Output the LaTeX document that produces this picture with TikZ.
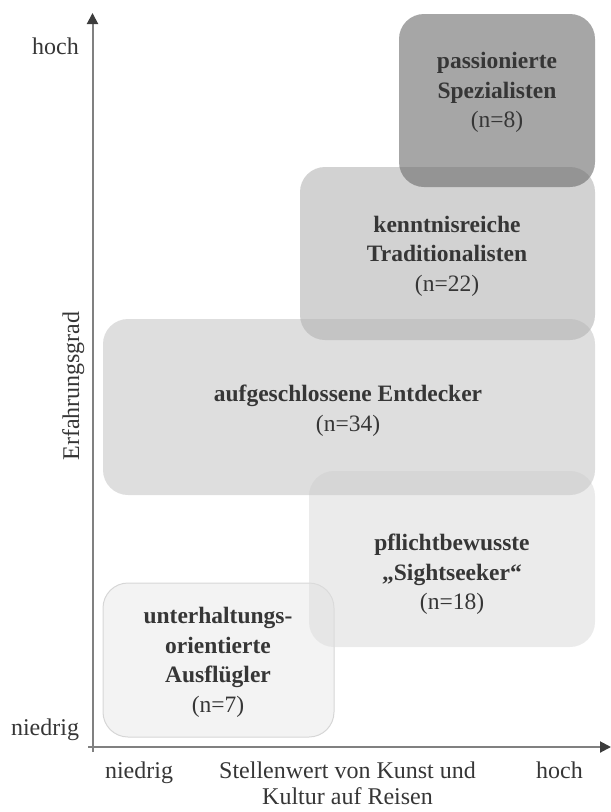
\documentclass[tikz,border=0pt]{standalone}
\usepackage{fontspec}
\setmainfont{Liberation Serif}
\usetikzlibrary{arrows.meta}
\definecolor{txt}{HTML}{363636}
\definecolor{axisgray}{HTML}{808080}
\definecolor{tipgray}{HTML}{3C3C3C}
\definecolor{cA}{gray}{0.42}
\definecolor{cB}{gray}{0.705}
\definecolor{cC}{gray}{0.785}
\definecolor{cD}{gray}{0.87}
\definecolor{cE}{gray}{0.92}
\tikzset{
  lab/.style={font=\fontsize{24}{29}\selectfont, text=txt, inner sep=0pt},
  grp/.style={font=\bfseries\fontsize{23.5}{29.5}\selectfont, text=txt, align=center, inner sep=0pt},
  segbox/.style={rounded corners=25pt, inner sep=0pt, fill opacity=0.6, draw=none},
  axisline/.style={draw=axisgray, line width=2pt,
    -{Triangle[length=11pt,width=11pt,color=tipgray]}},
}
\newcommand{\cnt}[1]{\\\mdseries(n=#1)}
\begin{document}
\begin{tikzpicture}[x=1pt,y=-1pt]
\useasboundingbox (0,0) rectangle (611,812);

% segments, from the lowest layer to the top one
\node[segbox, fill=cE, draw=black!16, draw opacity=1, line width=1pt,
      minimum width=231pt, minimum height=154pt] (b5) at (218.5,660) {};
\node[segbox, fill=cD, minimum width=286pt, minimum height=176pt] (b4) at (452,559) {};
\node[segbox, fill=cC, minimum width=492pt, minimum height=176pt] (b3) at (349,407) {};
\node[segbox, fill=cB, minimum width=295pt, minimum height=173pt] (b2) at (447.5,253.5) {};
\node[segbox, fill=cA, minimum width=196pt, minimum height=173pt] (b1) at (497,100.5) {};

% segment labels
\node[grp] (t1) at (497,92.75) {passionierte\\Spezialisten\cnt{8}};
\node[grp] (t2) at (447,256.25) {kenntnisreiche\\Traditionalisten\cnt{22}};
\node[grp] (t3) at (348,410.75) {aufgeschlossene Entdecker\cnt{34}};
\node[grp] (t4) at (452,574.25) {pflichtbewusste\\„Sightseeker“\cnt{18}};
\node[grp] (t5) at (218,662.25) {unterhaltungs-\\orientierte\\Ausflügler\cnt{7}};

% axes
\coordinate (ybot) at (92.5,752);
\coordinate (ytop) at (92.5,13);
\coordinate (xleft) at (88,747);
\coordinate (xright) at (611,747);
\draw[axisline] (ybot) -- (ytop);
\draw[axisline] (xleft) -- (xright);

% axis labels
\node[lab, anchor=base] (yhi) at (55.5,54) {hoch};
\node[lab, anchor=base] (ylo) at (45,735) {niedrig};
\node[lab, rotate=90, anchor=base] (ytitle) at (79,386) {Erfahrungsgrad};
\node[lab, anchor=base] (xlo) at (139,778) {niedrig};
\node[lab, anchor=base] (xhi) at (559.5,778) {hoch};
\node[lab, anchor=base] (xtitle1) at (347.5,778) {Stellenwert von Kunst und};
\node[lab, anchor=base] (xtitle2) at (347.5,804) {Kultur auf Reisen};
\end{tikzpicture}
\end{document}
